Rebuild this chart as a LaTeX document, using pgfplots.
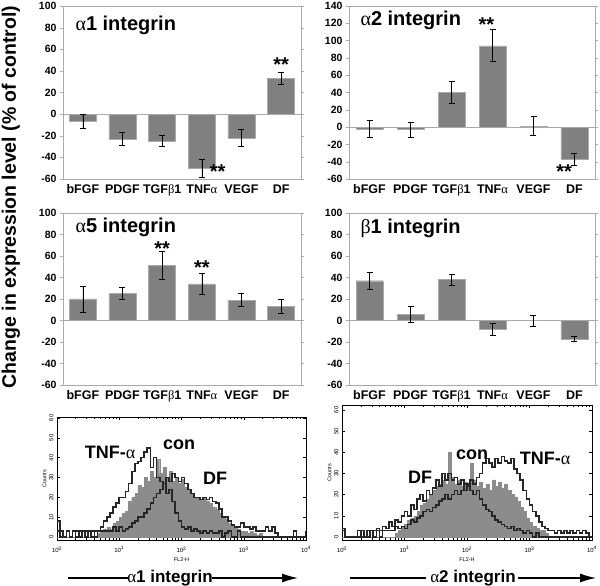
\documentclass[border=0pt]{standalone}
\usepackage{pgfplots}
\pgfplotsset{compat=1.18}
\usepackage{pgfplotstable}
\usepackage{fontspec}
\setmainfont{Liberation Sans}
\newfontfamily\grk{Liberation Serif}
\usetikzlibrary{arrows.meta}
\newcommand{\ga}{{\grk\mdseries α}}
\newcommand{\gb}{{\grk\mdseries β}}
\definecolor{barfill}{RGB}{128,128,128}
\definecolor{baredge}{RGB}{170,170,170}
\definecolor{axgray}{RGB}{170,170,170}

\pgfplotstableread{
x con tnf df
0.00 0 8 3
0.05 0 3 0
0.10 0 0 0
0.15 0 3 3
0.20 0 0 0
0.25 0 3 3
0.30 0 3 0
0.35 0 0 3
0.40 0 3 3
0.45 0 3 0
0.50 0 3 3
0.55 0 0 3
0.60 0 3 0
0.65 2 3 3
0.70 3 5 3
0.75 4 8 3
0.80 5 10 3
0.85 4 12 3
0.90 7 15 5
0.95 8 17 3
1.00 10 20 5
1.05 12 20 3
1.10 13 23 4
1.15 18 27 5
1.20 20 33 7
1.25 22 37 8
1.30 26 38 10
1.35 25 40 10
1.40 30 43 12
1.45 28 45 14
1.50 33 35 17
1.55 30 40 20
1.60 39 30 22
1.65 32 28 24
1.70 35 27 27
1.75 30 22 30
1.80 33 24 28
1.85 28 18 32
1.90 30 12 30
1.95 27 8 28
2.00 29 5 30
2.05 25 4 27
2.10 24 5 24
2.15 22 3 22
2.20 20 4 20
2.25 20 3 20
2.30 19 2 19
2.35 20 3 20
2.40 18 2 19
2.45 17 3 20
2.50 15 2 18
2.55 14 2 17
2.60 12 3 14
2.65 10 0 10
2.70 9 2 10
2.75 7 3 8
2.80 6 0 6
2.85 5 0 5
2.90 4 3 5
2.95 3 0 7
3.00 3 0 5
3.05 2 0 5
3.10 3 0 4
3.15 2 0 5
3.20 1 0 3
3.25 2 0 3
3.30 0 0 3
3.35 0 0 5
3.40 0 0 3
3.45 0 0 5
3.50 0 0 2
3.55 0 0 0
3.60 0 0 0
3.65 0 0 0
3.70 0 0 0
3.75 0 0 0
3.80 0 0 3
3.85 0 0 0
3.90 0 0 0
3.95 0 0 0
4.00 0 0 3
}\leftdata

\pgfplotstableread{
x con df tnf
0.00 0 4 3
0.05 0 0 0
0.10 0 0 0
0.15 0 0 0
0.20 0 0 0
0.25 0 3 0
0.30 0 0 3
0.35 0 0 0
0.40 0 3 0
0.45 0 3 3
0.50 0 0 3
0.55 0 4 3
0.60 0 3 0
0.65 0 5 3
0.70 0 4 3
0.75 0 7 3
0.80 0 5 3
0.85 2 8 5
0.90 3 7 4
0.95 5 10 5
1.00 6 12 4
1.05 8 10 6
1.10 9 15 8
1.15 10 13 7
1.20 12 18 9
1.25 15 20 10
1.30 16 17 12
1.35 18 22 13
1.40 20 20 12
1.45 22 23 14
1.50 24 27 15
1.55 25 24 17
1.60 27 30 18
1.65 25 27 20
1.70 40 30 18
1.75 28 27 20
1.80 25 28 22
1.85 27 25 20
1.90 24 27 22
1.95 26 22 25
2.00 25 25 24
2.05 35 22 27
2.10 27 20 25
2.15 24 22 28
2.20 26 18 30
2.25 23 15 35
2.30 25 13 37
2.35 22 12 35
2.40 27 10 33
2.45 24 8 37
2.50 26 7 35
2.55 23 6 38
2.60 25 5 36
2.65 22 4 35
2.70 20 5 37
2.75 19 3 32
2.80 17 4 30
2.85 14 3 27
2.90 12 2 22
2.95 9 3 18
3.00 7 2 15
3.05 5 0 12
3.10 4 2 10
3.15 3 0 7
3.20 3 0 5
3.25 2 0 4
3.30 0 0 3
3.35 0 0 3
3.40 0 0 2
3.45 0 0 3
3.50 0 0 2
3.55 0 0 3
3.60 0 0 2
3.65 0 0 3
3.70 0 0 2
3.75 0 0 3
3.80 0 0 2
3.85 0 0 3
3.90 0 0 2
3.95 0 0 0
4.00 0 0 0
}\rightdata

\pgfplotsset{
  barax/.style={
    anchor=south west, scale only axis,
    xmin=-0.5, xmax=5.5,
    xtick={0,1,2,3,4,5},
    xticklabels={bFGF,PDGF,TGF\gb1,TNF\ga,VEGF,DF},
    x tick label style={font=\bfseries\fontsize{12.5}{13}\selectfont, yshift=1pt},
    y tick label style={font=\bfseries\fontsize{10.5}{12}\selectfont},
    /pgf/number format/assume math mode=true,
    axis line style={axgray, line width=0.8pt},
    major x tick style={draw=none},
    major y tick style={axgray},
    tick align=outside, major tick length=3pt,
    ytick distance=20,
    ybar, bar width=27pt,
    clip=false,
  },
  barplot/.style={fill=barfill, draw=baredge, line width=0.4pt,
    error bars/.cd, y dir=both, y explicit,
    error bar style={black, line width=0.6pt},
    error mark options={black, line width=0.6pt, mark size=3pt, rotate=90}},
  flowax/.style={
    anchor=south west, scale only axis,
    xmin=0, xmax=4,
    xtick={0,1,2,3,4},
    xticklabels={10\textsuperscript{0},10\textsuperscript{1},10\textsuperscript{2},10\textsuperscript{3},10\textsuperscript{4}},
    minor xtick={0.301,0.477,0.602,0.699,0.778,0.845,0.903,0.954,1.301,1.477,1.602,1.699,1.778,1.845,1.903,1.954,2.301,2.477,2.602,2.699,2.778,2.845,2.903,2.954,3.301,3.477,3.602,3.699,3.778,3.845,3.903,3.954},
    ytick={0,10,20,30,40,50,60},
    tick label style={font=\fontsize{6}{6}\selectfont},
    x tick label style={yshift=-3pt},
    y tick label style={rotate=90, anchor=south},
    /pgf/number format/assume math mode=true,
    axis line style={black, line width=0.6pt},
    tick style={black, line width=0.5pt},
    major tick length=3pt, minor tick length=2pt,
    xlabel={FL2-H}, ylabel={Counts},
    xlabel style={font=\fontsize{5.5}{6}\selectfont, yshift=2pt},
    ylabel style={font=\fontsize{5.5}{6}\selectfont, yshift=-4pt},
  },
  histline/.style={const plot, black!85, line width=1.6pt},
}

\begin{document}
\begin{tikzpicture}[x=1pt,y=1pt]
\useasboundingbox (0,0) rectangle (600,586);

% alpha1
\begin{axis}[barax, at={(63pt,407pt)}, width=238pt, height=173pt, ymin=-60, ymax=100]
\addplot[axgray, line width=0.8pt, sharp plot, no marks, forget plot] coordinates {(-0.5,0) (5.5,0)};
\addplot[barplot] coordinates {(0,-7) +- (0,6.5) (1,-23) +- (0,6) (2,-25) +- (0,5) (3,-50) +- (0,8) (4,-22) +- (0,7.5) (5,33) +- (0,5.5)};
\node[font=\bfseries\fontsize{20}{20}\selectfont] at (axis cs:5,46) {**};
\node[font=\bfseries\fontsize{20}{20}\selectfont] at (axis cs:3.4,-53) {**};
\end{axis}

% alpha2
\begin{axis}[barax, at={(349pt,407pt)}, width=246pt, height=173pt, ymin=-60, ymax=140]
\addplot[axgray, line width=0.8pt, sharp plot, no marks, forget plot] coordinates {(-0.5,0) (5.5,0)};
\addplot[barplot] coordinates {(0,-2) +- (0,9.5) (1,-3) +- (0,8.5) (2,40) +- (0,12.5) (3,94) +- (0,18.5) (4,1) +- (0,11) (5,-37) +- (0,7)};
\node[font=\bfseries\fontsize{20}{20}\selectfont] at (axis cs:2.85,118) {**};
\node[font=\bfseries\fontsize{20}{20}\selectfont] at (axis cs:4.75,-52) {**};
\end{axis}

% alpha5
\begin{axis}[barax, at={(63pt,201pt)}, width=238pt, height=172pt, ymin=-60, ymax=100]
\addplot[axgray, line width=0.8pt, sharp plot, no marks, forget plot] coordinates {(-0.5,0) (5.5,0)};
\addplot[barplot] coordinates {(0,20) +- (0,12) (1,25) +- (0,5.5) (2,51) +- (0,13) (3,34) +- (0,10) (4,19) +- (0,6) (5,13) +- (0,6.5)};
\node[font=\bfseries\fontsize{20}{20}\selectfont] at (axis cs:2,67) {**};
\node[font=\bfseries\fontsize{20}{20}\selectfont] at (axis cs:3,49) {**};
\end{axis}

% beta1
\begin{axis}[barax, at={(349pt,201pt)}, width=246pt, height=172pt, ymin=-60, ymax=100]
\addplot[axgray, line width=0.8pt, sharp plot, no marks, forget plot] coordinates {(-0.5,0) (5.5,0)};
\addplot[barplot] coordinates {(0,37) +- (0,8) (1,6) +- (0,7.5) (2,38) +- (0,5) (3,-8) +- (0,5.5) (4,0) +- (0,5) (5,-17) +- (0,2.5)};
\end{axis}

% flow left
\begin{axis}[flowax, at={(57pt,46pt)}, width=249pt, height=123pt, ymin=-1.5, ymax=60.5]
\addplot[const plot, fill=black!45, draw=black!45] table[x=x, y=con] {\leftdata} \closedcycle;
\addplot[histline] table[x=x, y=tnf] {\leftdata};
\addplot[histline] table[x=x, y=df] {\leftdata};
\end{axis}

% flow right
\begin{axis}[flowax, at={(342pt,46pt)}, width=250pt, height=135pt, ymin=-1.4, ymax=62.3]
\addplot[const plot, fill=black!45, draw=black!45] table[x=x, y=con] {\rightdata} \closedcycle;
\addplot[histline] table[x=x, y=df] {\rightdata};
\addplot[histline] table[x=x, y=tnf] {\rightdata};
\end{axis}

% panel titles
\node[anchor=west, font=\bfseries\fontsize{20}{20}\selectfont] at (72,561) {\ga1 integrin};
\node[anchor=west, font=\bfseries\fontsize{20}{20}\selectfont] at (357,566) {\ga2 integrin};
\node[anchor=west, font=\bfseries\fontsize{20}{20}\selectfont] at (72,359) {\ga5 integrin};
\node[anchor=west, font=\bfseries\fontsize{20}{20}\selectfont] at (357,358) {\gb1 integrin};

% y label
\node[rotate=90, font=\bfseries\fontsize{19.5}{20}\selectfont] at (11,389) {Change in expression level (\% of control)};

% flow labels
\node[font=\bfseries\fontsize{18}{18}\selectfont] at (110,134) {TNF-\ga};
\node[font=\bfseries\fontsize{18}{18}\selectfont] at (179,141) {con};
\node[font=\bfseries\fontsize{18}{18}\selectfont] at (215,108) {DF};
\node[font=\bfseries\fontsize{18}{18}\selectfont] at (420,109) {DF};
\node[font=\bfseries\fontsize{18}{18}\selectfont] at (472,131) {con};
\node[font=\bfseries\fontsize{18}{18}\selectfont] at (545,128) {TNF-\ga};

% arrows
\draw[black, line width=1.2pt] (68,8) -- (128,8);
\node[font=\bfseries\fontsize{17}{17}\selectfont] at (170,8) {\ga1 integrin};
\draw[black, line width=1.2pt, -{Latex[length=16pt, width=9pt]}] (212,8) -- (298,8);
\draw[black, line width=1.2pt] (350,8) -- (426,8);
\node[font=\bfseries\fontsize{17}{17}\selectfont] at (473,8) {\ga2 integrin};
\draw[black, line width=1.2pt, -{Latex[length=16pt, width=9pt]}] (518,8) -- (596,8);
\end{tikzpicture}
\end{document}
